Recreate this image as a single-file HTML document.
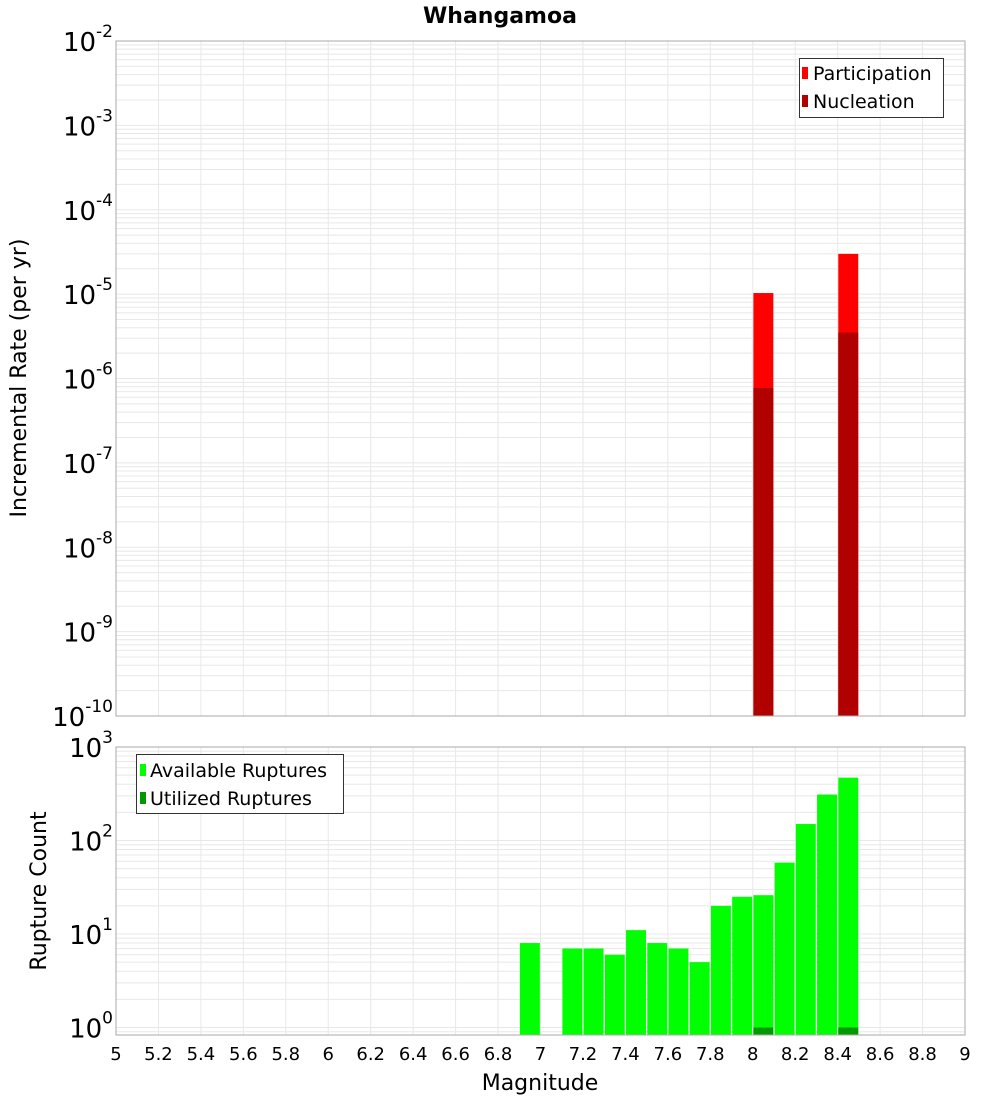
<!DOCTYPE html>
<html><head><meta charset="utf-8"><style>
html,body{margin:0;padding:0;background:#fff;}
svg{display:block;font-family:"Liberation Sans","DejaVu Sans",sans-serif;}
</style></head><body>
<svg id="chart" width="1000" height="1100" viewBox="0 0 1000 1100" xmlns="http://www.w3.org/2000/svg">
<text x="500" y="23" text-anchor="middle" font-size="22" font-weight="bold" font-family="DejaVu Sans, sans-serif">Whangamoa</text>
<text transform="translate(26,378) rotate(-90)" text-anchor="middle" font-size="22" font-family="DejaVu Sans, sans-serif">Incremental Rate (per yr)</text>
<text transform="translate(46,891) rotate(-90)" text-anchor="middle" font-size="22" font-family="DejaVu Sans, sans-serif">Rupture Count</text>
<text x="540" y="1090" text-anchor="middle" font-size="22" font-family="DejaVu Sans, sans-serif">Magnitude</text>
<g id="grid"></g>
<g id="marks"></g>
<g id="axes"></g>
<g>
<rect x="799.5" y="58.5" width="144" height="59" fill="#fff" stroke="#333"/>
<rect x="802" y="67" width="6" height="12" fill="#ff0000"/>
<text x="813" y="80" font-size="19" font-family="DejaVu Sans, sans-serif">Participation</text>
<rect x="802" y="95" width="6" height="12" fill="#b00000"/>
<text x="813" y="108" font-size="19" font-family="DejaVu Sans, sans-serif">Nucleation</text>
</g>
<g>
<rect x="136.5" y="754.5" width="207" height="59" fill="#fff" stroke="#333"/>
<rect x="140" y="764" width="6" height="12" fill="#00ff00"/>
<text x="150" y="777" font-size="19" font-family="DejaVu Sans, sans-serif">Available Ruptures</text>
<rect x="140" y="792" width="6" height="12" fill="#009900"/>
<text x="150" y="805" font-size="19" font-family="DejaVu Sans, sans-serif">Utilized Ruptures</text>
</g>
</svg>
<script>
const topMags = [8.05, 8.45];
const participation = [1.03e-5, 3.0e-5];
const nucleation = [7.7e-7, 3.5e-6];
const countMags = [6.95, 7.15, 7.25, 7.35, 7.45, 7.55, 7.65, 7.75, 7.85, 7.95, 8.05, 8.15, 8.25, 8.35, 8.45];
const available = [8, 7, 7, 6, 11, 8, 7, 5, 20, 25, 26, 58, 150, 310, 470];
const utilMags = [8.05, 8.45];
const utilized = [1, 1];
const xTicks = ["5","5.2","5.4","5.6","5.8","6","6.2","6.4","6.6","6.8","7","7.2","7.4","7.6","7.8","8","8.2","8.4","8.6","8.8","9"];
const topExps = [-2,-3,-4,-5,-6,-7,-8,-9,-10];
const botExps = [3,2,1,0];

const NS="http://www.w3.org/2000/svg";
const X0=116, X1=965;
const T0=41, T1=716, B0=747, B1=1035;
function xs(m){return X0+(m-5)/4*(X1-X0);}
function yTop(v){return T0+(-2-Math.log10(v))/8*(T1-T0);}
const bPer=93.5;
function yBot(v){return B0+(3-Math.log10(v))*bPer;}
function mk(tag,attrs,parent){const e=document.createElementNS(NS,tag);for(const k in attrs)e.setAttribute(k,attrs[k]);parent.appendChild(e);return e;}
const grid=document.getElementById('grid'),marks=document.getElementById('marks'),axes=document.getElementById('axes');
const gc="#e8e8e8";
// vertical grid
xTicks.forEach(t=>{const x=xs(parseFloat(t));
 mk('line',{x1:x,x2:x,y1:T0,y2:T1,stroke:gc},grid);
 mk('line',{x1:x,x2:x,y1:B0,y2:B1,stroke:gc},grid);});
// horizontal log grid top
for(let e=-10;e<-2;e++){for(let k=1;k<10;k++){const y=yTop(k*Math.pow(10,e));mk('line',{x1:X0,x2:X1,y1:y,y2:y,stroke:gc},grid);}}
for(let e=-1;e<3;e++){for(let k=1;k<10;k++){const y=yBot(k*Math.pow(10,e));if(y>=B0&&y<=B1)mk('line',{x1:X0,x2:X1,y1:y,y2:y,stroke:gc},grid);}}
const bw=0.094;
topMags.forEach((m,i)=>{
 const r=mk('rect',{x:xs(m-bw/2),width:xs(m+bw/2)-xs(m-bw/2),y:yTop(participation[i]),height:T1-yTop(participation[i]),fill:'#ff0000'},marks);
 
 
 const n=mk('rect',{x:xs(m-bw/2),width:xs(m+bw/2)-xs(m-bw/2),y:yTop(nucleation[i]),height:T1-yTop(nucleation[i]),fill:'#b00000'},marks);
 
 
});
countMags.forEach((m,i)=>{
 const r=mk('rect',{x:xs(m-bw/2),width:xs(m+bw/2)-xs(m-bw/2),y:yBot(available[i]),height:B1-yBot(available[i]),fill:'#00ff00'},marks);
 
 
});
utilMags.forEach((m,i)=>{
 const r=mk('rect',{x:xs(m-bw/2),width:xs(m+bw/2)-xs(m-bw/2),y:yBot(utilized[i]),height:B1-yBot(utilized[i]),fill:'#009900'},marks);
 
 
});
// frames
mk('rect',{x:X0,y:T0,width:X1-X0,height:T1-T0,fill:'none',stroke:'#aaa'},axes);
mk('rect',{x:X0,y:B0,width:X1-X0,height:B1-B0,fill:'none',stroke:'#aaa'},axes);
function expLabel(e,y,name){
 const t=mk('text',{x:113,y:y+10,'text-anchor':'end','font-size':'26','font-family':'DejaVu Sans, sans-serif'},axes);
 
 
 const a=document.createElementNS(NS,'tspan');a.textContent='10';t.appendChild(a);
 const b=document.createElementNS(NS,'tspan');b.setAttribute('dy','-14');b.setAttribute('font-size','17');b.textContent=String(e);t.appendChild(b);
}
topExps.forEach(e=>expLabel(e,yTop(Math.pow(10,e)),'top-y-tick-label'));
botExps.forEach(e=>expLabel(e,yBot(Math.pow(10,e)),'bottom-y-tick-label'));
xTicks.forEach(t=>{
 const l=mk('text',{x:xs(parseFloat(t)),y:1060,'text-anchor':'middle','font-size':'18','font-family':'DejaVu Sans, sans-serif'},axes);
 l.textContent=t;
 
 
});
</script>
</body></html>
